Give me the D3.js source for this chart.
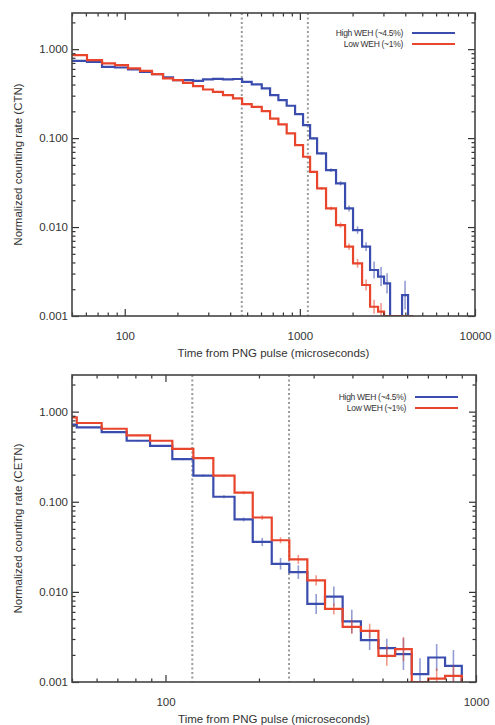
<!DOCTYPE html>
<html>
<head>
<meta charset="utf-8">
<script src="https://cdn.jsdelivr.net/npm/d3@7"></script>
<style>
  html, body { margin: 0; padding: 0; background: #fff; }
  svg { display: block; }
  text { font-family: "Liberation Sans", Arial, Helvetica, sans-serif; fill: #333; }
</style>
</head>
<body>
<svg id="chart" width="495" height="725"></svg>
<script>
// ---------------- DATA ----------------
// Top panel (CTN): log-spaced bin edges (microseconds)
const topEdges = [50, 60.9, 74.2, 88.0, 104.4, 122.3, 143.1, 165.5, 188.7, 215.2, 245.5, 280, 319, 364, 415, 468,
  531, 606, 676, 754, 841, 939, 1043, 1144, 1254, 1411, 1609, 1812, 2012, 2266, 2517, 2797, 3025, 3275, 3833, 4148, 4431];
const topHigh = [0.739, 0.720, 0.632, 0.622, 0.591, 0.556, 0.524, 0.481, 0.449, 0.449, 0.440, 0.457, 0.464, 0.457, 0.462,
  0.429, 0.401, 0.362, 0.304, 0.267, 0.231, 0.186, 0.140, 0.0993, 0.0673, 0.0437, 0.031, 0.0162, 0.00925, 0.00601,
  0.00329, 0.00277, 0.00233, 0, 0.00172, 0];
const topLow = [0.857, 0.752, 0.691, 0.661, 0.607, 0.570, 0.524, 0.469, 0.449, 0.418, 0.384, 0.352, 0.331, 0.304, 0.279,
  0.241, 0.225, 0.201, 0.166, 0.143, 0.113, 0.0834, 0.0617, 0.0418, 0.0272, 0.0162, 0.01052, 0.00601, 0.00391, 0.00223,
  0.00127, 0.00112, 0, 0, 0, 0];
// multiplicative error-bar half widths
const topHighErr = [1, 1, 1, 1, 1, 1, 1, 1, 1, 1, 1, 1, 1, 1, 1, 1, 1, 1, 1, 1, 1.01, 1.02, 1.02, 1.03, 1.04, 1.05,
  1.06, 1.08, 1.1, 1.12, 1.25, 1.28, 1.3, 1, 1.45, 1];
const topLowErr = [1, 1, 1, 1, 1, 1, 1, 1, 1, 1, 1, 1, 1, 1, 1, 1, 1, 1, 1, 1, 1.01, 1.02, 1.02, 1.03, 1.04, 1.05,
  1.07, 1.09, 1.12, 1.15, 1.2, 1.25, 1, 1, 1, 1];

// Bottom panel (CETN)
const botEdges = [50, 51.8, 62.3, 75, 89.2, 105.2, 123, 142.6, 166.9, 191, 219.9, 250.5, 286.3, 326.4, 372, 426,
  485, 549, 621, 702, 795, 900];
const botHigh = [0.716, 0.668, 0.593, 0.475, 0.418, 0.297, 0.195, 0.1136, 0.0636, 0.0358, 0.0205, 0.01656, 0.00735,
  0.00887, 0.0047, 0.00292, 0.00238, 0.00204, 0.00122, 0.00187, 0.00151];
const botLow = [0.863, 0.748, 0.646, 0.544, 0.475, 0.387, 0.305, 0.195, 0.126, 0.0669, 0.0374, 0.0229, 0.0134,
  0.00647, 0.0041, 0.0037, 0.00195, 0.00232, 0, 0.00109, 0.00117];
const botHighErr = [1, 1, 1.02, 1.02, 1.02, 1.03, 1.03, 1.04, 1.05, 1.11, 1.16, 1.19, 1.29, 1.29, 1.35, 1.29, 1.27,
  1.5, 1.5, 1.41, 1.5];
const botLowErr = [1, 1, 1.02, 1.02, 1.02, 1.02, 1.03, 1.03, 1.04, 1.06, 1.08, 1.12, 1.14, 1.15, 1.2, 1.2, 1.29,
  1.36, 1, 1.3, 1.3];

const topMarkers = [466, 1111];
const botMarkers = [122, 250];

const yTickValues = [1, 0.1, 0.01, 0.001];
const yTickLabels = ["1.000", "0.100", "0.010", "0.001"];
const seriesNames = ["High WEH (~4.5%)", "Low WEH (~1%)"];
const colors = ["#3a4dae", "#e8452c"];

// ---------------- DRAW ----------------
const svg = d3.select("#chart");

function panel(cfg) {
  const {left, right, top, bottom, xDomain, xMajor, edges, series, errs, markers, yTitle, legendX, legendY} = cfg;
  const x = d3.scaleLog().domain(xDomain).range([left, right]);
  const y = d3.scaleLog().domain([0.001, 2.55]).range([bottom, top]).clamp(true);
  const yv = v => y(Math.max(v, 0.001));
  const g = svg.append("g");

  // clip
  const clipId = "clip" + top;
  svg.append("clipPath").attr("id", clipId).append("rect")
    .attr("x", left).attr("y", top).attr("width", right - left).attr("height", bottom - top);

  // dotted markers
  g.selectAll(".mk").data(markers).join("line")
    .attr("x1", d => x(d)).attr("x2", d => x(d)).attr("y1", top).attr("y2", bottom)
    .attr("stroke", "#9a9a9a").attr("stroke-width", 2).attr("stroke-dasharray", "2,2.5");

  // histograms
  const line = d3.line().x(d => d[0]).y(d => d[1]);
  series.forEach((vals, si) => {
    const pts = [];
    vals.forEach((v, i) => {
      pts.push([x(edges[i]), yv(v)]);
      pts.push([x(edges[i + 1]), yv(v)]);
    });
    pts.push([x(edges[edges.length - 1]), yv(0)]);
    const sg = g.append("g").attr("clip-path", `url(#${clipId})`);
    // error bars
    const eb = [];
    vals.forEach((v, i) => {
      const f = errs[si][i];
      if (v > 0 && f > 1) {
        eb.push({cx: Math.sqrt(edges[i] * edges[i + 1]), lo: v / f, hi: v * f});
      }
    });
    sg.selectAll(".eb").data(eb).join("line")
      .attr("x1", d => x(d.cx)).attr("x2", d => x(d.cx))
      .attr("y1", d => yv(d.lo)).attr("y2", d => yv(d.hi))
      .attr("stroke", colors[si]).attr("stroke-opacity", 0.55).attr("stroke-width", 1.6);
    sg.append("path").attr("d", line(pts)).attr("fill", "none")
      .attr("stroke", colors[si]).attr("stroke-width", 2.2).attr("stroke-linejoin", "miter");
  });

  // axes: ticks inside on all four sides
  const xt = x.ticks();
  const xMaj = xt.filter(t => xMajor.includes(t));
  const xMin = xt.filter(t => !xMajor.includes(t));
  const yt = y.ticks();
  const yMaj = yt.filter(t => yTickValues.includes(t));
  const yMin = yt.filter(t => !yTickValues.includes(t));

  const axStyle = sel => {
    sel.select(".domain").remove();
    sel.selectAll(".tick line").attr("stroke", "#333").attr("stroke-width", 1.2);
    sel.selectAll("text").attr("fill", "#333").style("font-size", "11.5px")
      .style("font-family", '"Liberation Sans", Arial, sans-serif');
  };
  // bottom
  g.append("g").attr("transform", `translate(0,${bottom})`)
    .call(d3.axisBottom(x).tickValues(xMaj).tickSize(-7).tickPadding(16)
      .tickFormat(d => d3.format("d")(d))).call(axStyle);
  g.append("g").attr("transform", `translate(0,${bottom})`)
    .call(d3.axisBottom(x).tickValues(xMin).tickSize(-3.5).tickFormat("")).call(axStyle);
  // top
  g.append("g").attr("transform", `translate(0,${top})`)
    .call(d3.axisTop(x).tickValues(xMaj).tickSize(-7).tickFormat("")).call(axStyle);
  g.append("g").attr("transform", `translate(0,${top})`)
    .call(d3.axisTop(x).tickValues(xMin).tickSize(-3.5).tickFormat("")).call(axStyle);
  // left
  g.append("g").attr("transform", `translate(${left},0)`)
    .call(d3.axisLeft(y).tickValues(yMaj).tickSize(-7).tickPadding(4)
      .tickFormat(d => yTickLabels[yTickValues.indexOf(d)])).call(axStyle);
  g.append("g").attr("transform", `translate(${left},0)`)
    .call(d3.axisLeft(y).tickValues(yMin).tickSize(-3.5).tickFormat("")).call(axStyle);
  // right
  g.append("g").attr("transform", `translate(${right},0)`)
    .call(d3.axisRight(y).tickValues(yMaj).tickSize(-7).tickFormat("")).call(axStyle);
  g.append("g").attr("transform", `translate(${right},0)`)
    .call(d3.axisRight(y).tickValues(yMin).tickSize(-3.5).tickFormat("")).call(axStyle);

  // frame
  g.append("rect").attr("x", left).attr("y", top).attr("width", right - left).attr("height", bottom - top)
    .attr("fill", "none").attr("stroke", "#444").attr("stroke-width", 1.6);

  // titles
  g.append("text").attr("x", (left + right) / 2).attr("y", bottom + 41)
    .attr("text-anchor", "middle").style("font-size", "11.5px")
    .text("Time from PNG pulse (microseconds)");
  g.append("text").attr("transform", `translate(18,${(top + bottom) / 2}) rotate(-90)`)
    .attr("text-anchor", "middle").attr("dy", "0.35em").style("font-size", "11.5px")
    .text(yTitle);

  // legend
  seriesNames.forEach((name, i) => {
    const ly = legendY + i * 11;
    g.append("text").attr("x", legendX).attr("y", ly).attr("dy", "0.35em")
      .attr("text-anchor", "end").style("font-size", "8.5px").style("letter-spacing", "-0.3px").text(name);
    g.append("line").attr("x1", legendX + 9).attr("x2", legendX + 52).attr("y1", ly).attr("y2", ly)
      .attr("stroke", colors[i]).attr("stroke-width", 2);
  });
}

panel({
  left: 72, right: 475, top: 13, bottom: 316,
  xDomain: [50, 10000], xMajor: [100, 1000, 10000],
  edges: topEdges, series: [topHigh, topLow], errs: [topHighErr, topLowErr],
  markers: topMarkers, yTitle: "Normalized counting rate (CTN)",
  legendX: 403, legendY: 33
});
panel({
  left: 72, right: 476, top: 375, bottom: 682,
  xDomain: [50, 1000], xMajor: [100, 1000],
  edges: botEdges, series: [botHigh, botLow], errs: [botHighErr, botLowErr],
  markers: botMarkers, yTitle: "Normalized counting rate (CETN)",
  legendX: 406, legendY: 397
});
</script>
</body>
</html>
